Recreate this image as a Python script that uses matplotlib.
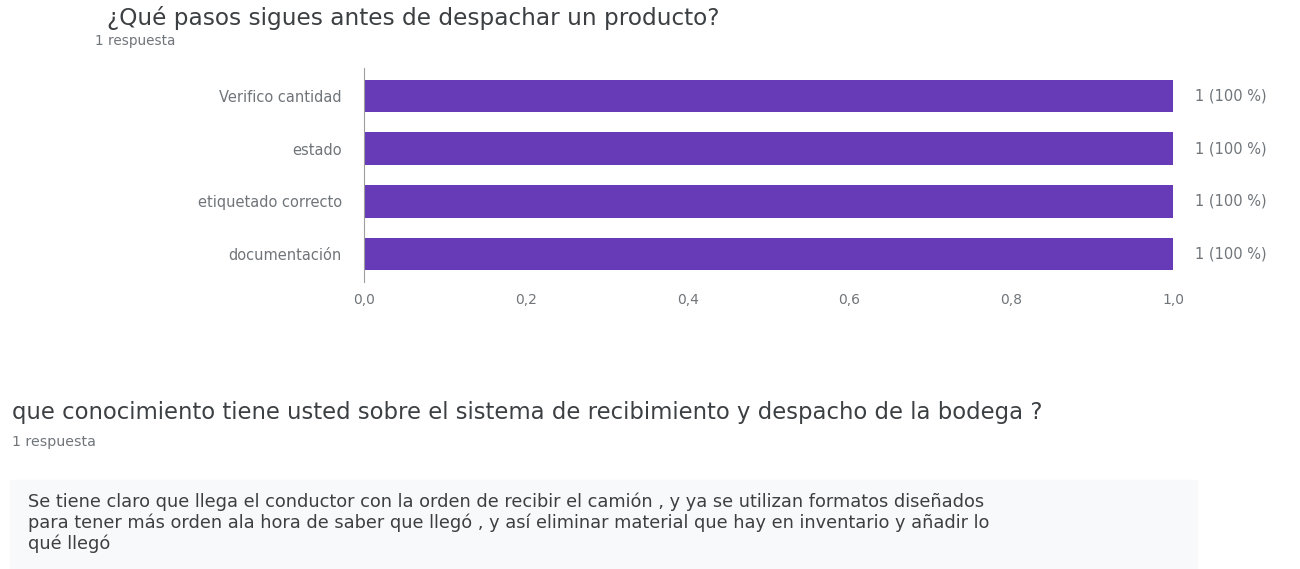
import matplotlib
matplotlib.use("Agg")
import matplotlib.pyplot as plt
import matplotlib.patches as mpatches

# data
categories = ["Verifico cantidad", "estado", "etiquetado correcto", "documentación"]
counts = [1, 1, 1, 1]
percents = [100, 100, 100, 100]
xticks = [0.0, 0.2, 0.4, 0.6, 0.8, 1.0]

title1 = "¿Qué pasos sigues antes de despachar un producto?"
title2 = "que conocimiento tiene usted sobre el sistema de recibimiento y despacho de la bodega ?"
subtitle = "1 respuesta"
answer_lines = [
    "Se tiene claro que llega el conductor con la orden de recibir el camión , y ya se utilizan formatos diseñados",
    "para tener más orden ala hora de saber que llegó , y así eliminar material que hay en inventario y añadir lo",
    "qué llegó",
]

purple = "#673ab7"
grey = "#70757a"
dark = "#3c4043"
plt.rcParams['font.family'] = ['DejaVu Sans']

W, H = 1300, 569
fig = plt.figure(figsize=(W / 100, H / 100), dpi=100)
renderer = fig.canvas.get_renderer()


def px(x, y):
    # pixel coords (from top-left) to figure fraction
    return x / W, 1 - y / H


def fit_text(x, y, s, width_px, **kw):
    # size the text so it spans about the given width
    t = fig.text(*px(x, y), s, fontsize=10, va='center', **kw)
    w = t.get_window_extent(renderer).width
    t.set_fontsize(10 * width_px / w)
    return t


ax = fig.add_axes([364 / W, 1 - 282 / H, (1173 - 364) / W, (282 - 68) / H])

ypos = list(range(len(categories)))
ax.barh(ypos, counts, height=0.62, color=purple)
ax.set_ylim(len(categories) - 0.47, -0.53)
ax.set_xlim(0, 1.0)
ax.set_yticks(ypos)
ax.set_yticklabels(categories, fontsize=10.5, color=grey)
ax.set_xticks(xticks)
ax.set_xticklabels([f"{t:.1f}".replace(".", ",") for t in xticks], fontsize=10, color=grey)
ax.tick_params(axis='both', length=0)
ax.tick_params(axis='x', pad=8)
ax.tick_params(axis='y', pad=16)
for s in ["top", "right", "bottom"]:
    ax.spines[s].set_visible(False)
ax.spines["left"].set_color("#9e9e9e")
for y, c, p in zip(ypos, counts, percents):
    ax.text(c + 0.027, y, f"{c} ({p} %)", va='center', ha='left', fontsize=10.5, color=grey)

# the screenshot text is stretched sideways, so aim a bit short of its width
fit_text(107, 18, title1, 635 * 0.96, color=dark)
fit_text(95, 41, subtitle, 100 * 0.8, color=grey)
fit_text(12, 412, title2, 1076 * 0.96, color=dark)
fit_text(12, 442, subtitle, 104 * 0.8, color=grey)

box = mpatches.Rectangle(px(10, H), 1187 / W, (H - 480) / H,
                         transform=fig.transFigure, color="#f8f9fa", zorder=0)
fig.patches.append(box)
line_y = [502, 523, 544]
for y, line in zip(line_y, answer_lines):
    fig.text(*px(28, y), line, fontsize=12.8, color=dark, va='center')

fig.savefig("out.png", dpi=100)
